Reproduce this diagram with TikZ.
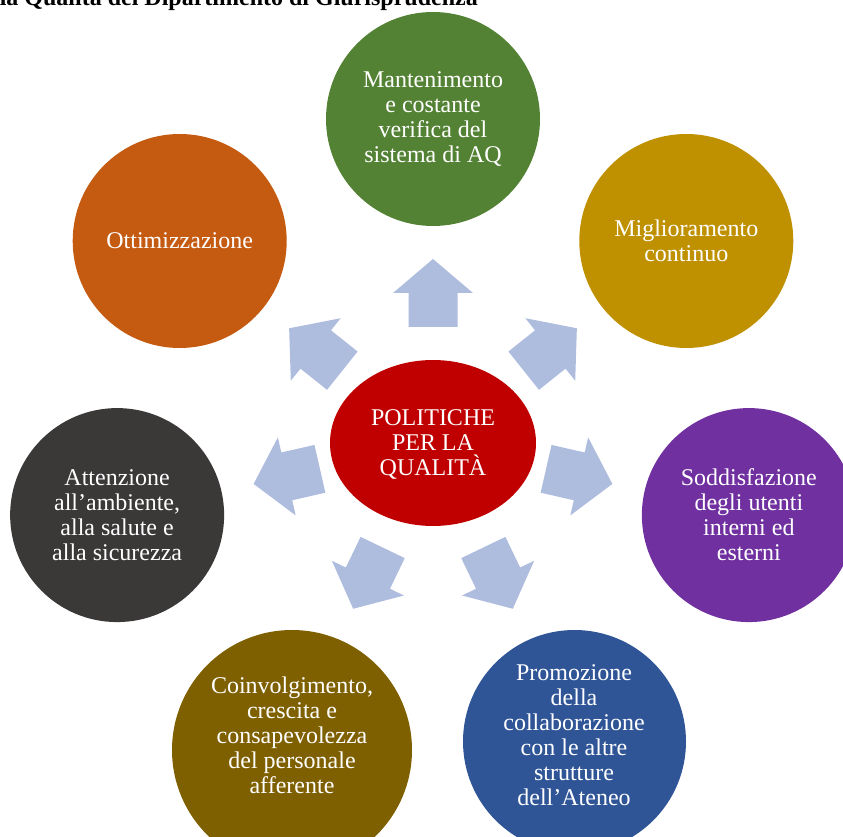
\documentclass[tikz,border=0pt]{standalone}
\usepackage{fontspec}
\setmainfont{Liberation Serif}
\usetikzlibrary{shapes.geometric}

\definecolor{corered}{RGB}{192,0,0}
\definecolor{leafgreen}{RGB}{84,130,53}
\definecolor{gold}{RGB}{191,144,0}
\definecolor{violet}{RGB}{112,48,160}
\definecolor{navy}{RGB}{47,85,151}
\definecolor{olivebrown}{RGB}{127,96,0}
\definecolor{charcoal}{RGB}{59,56,56}
\definecolor{rust}{RGB}{197,90,17}
\definecolor{arrowfill}{RGB}{174,188,222}

\begin{document}
\begin{tikzpicture}[x=1pt,y=1pt,
  topic/.style={circle, minimum size=214pt, inner sep=0pt, text=white,
    align=center, font=\fontsize{24}{25}\selectfont},
  label text/.style={inner sep=0pt, text=white, align=center,
    font=\fontsize{24}{25}\selectfont},
  core/.style={ellipse, fill=corered, minimum width=206pt, minimum height=166pt,
    inner sep=0pt},
  flow/.style={fill=arrowfill}]
\useasboundingbox (0,0) rectangle (843,836);
\clip (0,0) rectangle (843,836);

% heading, partly outside the page
\node[anchor=base east, inner sep=0pt, font=\bfseries\fontsize{24}{25}\selectfont]
  (heading) at (478,830) {la Qualità del Dipartimento di Giurisprudenza};

\coordinate (O) at (433,393);

% block arrows pointing outwards
\foreach \a in {90,38.571,-12.857,-64.286,-115.714,-167.143,141.429}{
  \fill[flow, shift={(O)}, rotate=\a]
    (116,-24.5) -- (150,-24.5) -- (150,-40) -- (184,0)
    -- (150,40) -- (150,24.5) -- (116,24.5) -- cycle;
}

% central ellipse
\node[core] (centre) at (O) {};
\node[label text] (centretext) at ([yshift=-2pt]O) {POLITICHE\\PER LA\\QUALITÀ};

% surrounding topics
\node[topic, fill=leafgreen] (mant) at ([shift={(90:324)}]O)
  {Mantenimento\\e costante\\verifica del\\sistema di AQ};
\node[topic, fill=gold] (migl) at ([shift={(38.571:324)}]O)
  {Miglioramento\\continuo};
\node[topic, fill=violet] (sodd) at ([shift={(-12.857:324)}]O)
  {Soddisfazione\\degli utenti\\interni ed\\esterni};
\node[topic, fill=navy, minimum size=223pt] (prom) at (574.5,94.5) {};
\node[label text] (promtext) at (574,101)
  {Promozione\\della\\collaborazione\\con le altre\\strutture\\dell’Ateneo};
\node[topic, fill=olivebrown, minimum size=240pt] (coinv) at (292,86) {};
\node[label text] (coinvtext) at (292,101)
  {Coinvolgimento,\\crescita e\\consapevolezza\\del personale\\afferente};
\node[topic, fill=charcoal] (att) at ([shift={(-167.143:324)}]O)
  {Attenzione\\all’ambiente,\\alla salute e\\alla sicurezza};
\node[topic, fill=rust] (ott) at ([shift={(141.429:324)}]O)
  {Ottimizzazione};
\end{tikzpicture}
\end{document}
